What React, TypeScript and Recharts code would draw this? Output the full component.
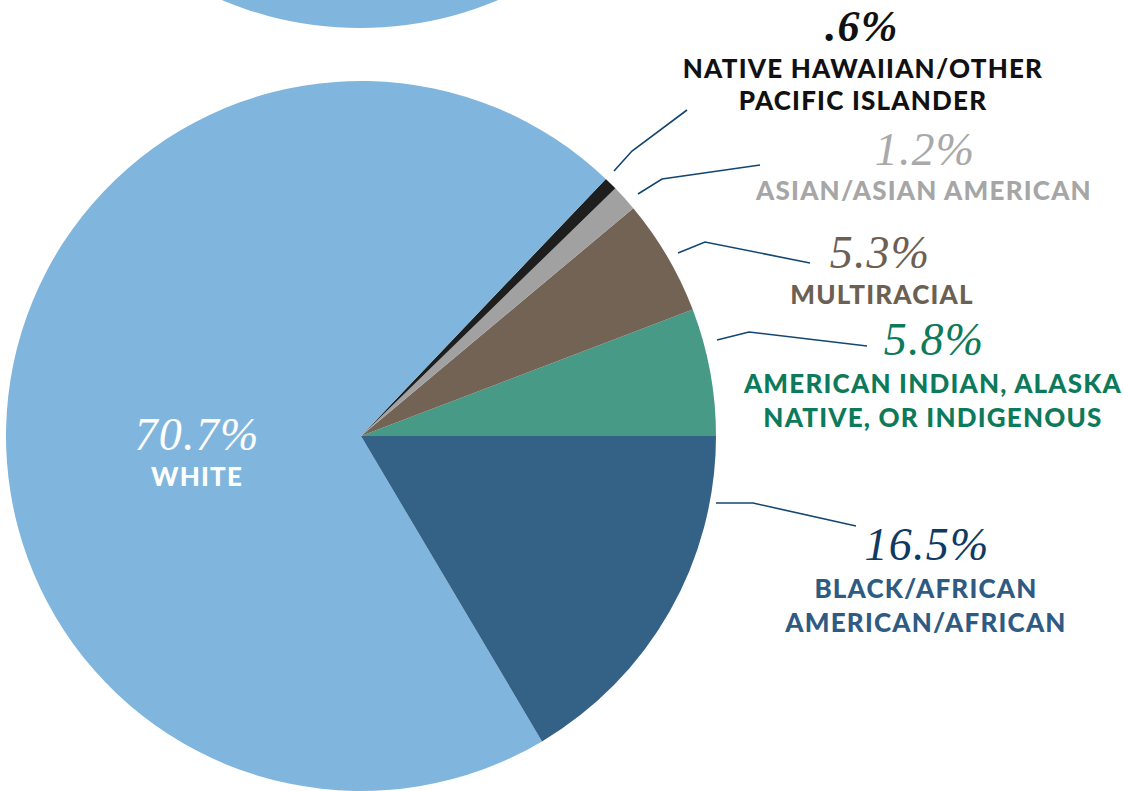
import React from 'react';
import { PieChart, Pie, Cell } from 'recharts';

const categories = [
  'American Indian, Alaska Native, or Indigenous',
  'Multiracial',
  'Asian/Asian American',
  'Native Hawaiian/Other Pacific Islander',
  'White',
  'Black/African American/African',
];
const values = [5.8, 5.3, 1.2, 0.6, 70.7, 16.5];
const valueLabels = ['5.8%', '5.3%', '1.2%', '.6%', '70.7%', '16.5%'];
const nameLines = [
  ['AMERICAN INDIAN, ALASKA', 'NATIVE, OR INDIGENOUS'],
  ['MULTIRACIAL'],
  ['ASIAN/ASIAN AMERICAN'],
  ['NATIVE HAWAIIAN/OTHER', 'PACIFIC ISLANDER'],
  ['WHITE'],
  ['BLACK/AFRICAN', 'AMERICAN/AFRICAN'],
];
const sliceColors = ['#469A86', '#736355', '#A1A1A1', '#1E1E1E', '#80B6DE', '#346186'];
const pctColors = ['#0C7A5B', '#6E5F53', '#A9A9A9', '#111111', '#FFFFFF', '#0F3A62'];
const nameColors = ['#0C7A5B', '#6E5F53', '#A6A6A6', '#111111', '#FFFFFF', '#2F5B82'];

const data = categories.map((name, i) => ({ name, value: values[i] }));
const topData = [{ name: 'other', value: 1 }];

// label layout relative to pie center: leader polyline points, text anchor x, pct baseline, name baselines
const layout = [
  { line: [[356, -96], [388, -104], [506, -90]], x: 573, pctY: -81, nx: 572, nameY: [-43, -9], bold: false, size: 46 },
  { line: [[317, -183], [344, -194], [449, -173]], x: 519, pctY: -168, nx: 521, nameY: [-132], bold: false, size: 46 },
  { line: [[277, -242], [301, -257], [399, -271]], x: 564, pctY: -271, nx: 563, nameY: [-236], bold: false, size: 46 },
  { line: [[253, -265], [271, -285], [326, -326]], x: 501, pctY: -395, nx: 502, nameY: [-358, -326], bold: true, size: 44 },
  { line: null, x: -164, pctY: 14, nx: -164, nameY: [50], bold: false, size: 46 },
  { line: [[355, 67], [392, 67], [495, 90]], x: 566, pctY: 124, nx: 565, nameY: [162, 196], bold: false, size: 46 },
];

const renderLabel = (props: any) => {
  const { cx, cy, index } = props;
  const L = layout[index];
  if (!L) return null;
  return (
    <g key={`lbl-${index}`}>
      {L.line && (
        <polyline
          points={L.line.map(([x, y]) => `${cx + x},${cy + y}`).join(' ')}
          fill="none"
          stroke="#134673"
          strokeWidth={1.6}
        />
      )}
      <text
        x={cx + L.x}
        y={cy + L.pctY}
        textAnchor="middle"
        fill={pctColors[index]}
        fontFamily="'Liberation Serif', serif"
        fontStyle="italic"
        fontWeight={L.bold ? 700 : 400}
        fontSize={L.size}
        letterSpacing={1.2}
      >
        {valueLabels[index]}
      </text>
      {nameLines[index].map((t, k) => (
        <text
          key={k}
          x={cx + L.nx}
          y={cy + L.nameY[k]}
          textAnchor="middle"
          fill={nameColors[index]}
          fontFamily="Lato, 'Open Sans', sans-serif"
          fontWeight={900}
          fontSize={26}
          letterSpacing={1.2}
        >
          {t}
        </text>
      ))}
    </g>
  );
};

export default function App() {
  return (
    <div style={{ position: 'absolute', left: 0, top: 0, width: 1123, height: 791, background: '#fff' }}>
      <PieChart width={1123} height={791} margin={{ top: 0, right: 0, bottom: 0, left: 0 }}>
        <Pie
          data={topData}
          dataKey="value"
          cx={360}
          cy={-327}
          outerRadius={355}
          startAngle={0}
          endAngle={360}
          stroke="none"
          isAnimationActive={false}
        >
          <Cell fill="#80B6DE" />
        </Pie>
        <Pie
          data={data}
          dataKey="value"
          nameKey="name"
          cx={361}
          cy={436}
          outerRadius={355}
          startAngle={0}
          endAngle={360}
          stroke="none"
          labelLine={false}
          label={renderLabel}
          isAnimationActive={false}
        >
          {data.map((d, i) => (
            <Cell key={d.name} fill={sliceColors[i]} />
          ))}
        </Pie>
      </PieChart>
    </div>
  );
}
